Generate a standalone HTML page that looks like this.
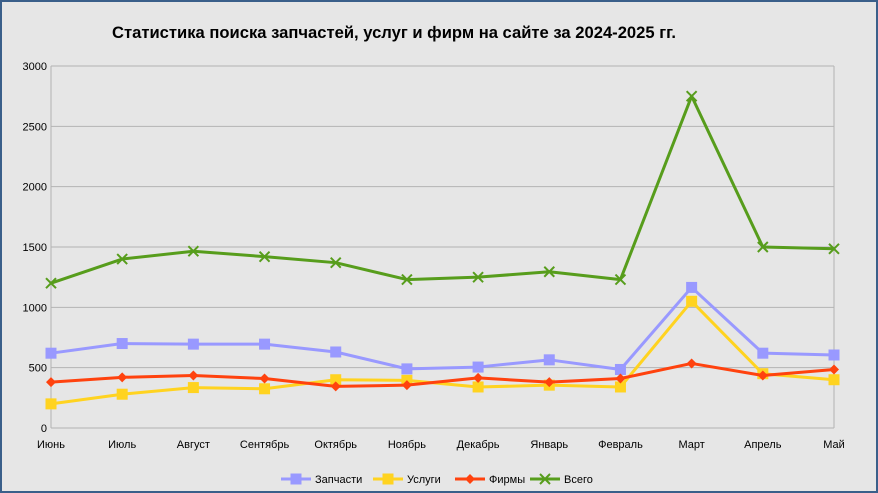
<!DOCTYPE html>
<html><head><meta charset="utf-8"><style>
html,body{margin:0;padding:0;background:#e6e6e6;}
svg{display:block;font-family:"Liberation Sans","DejaVu Sans",sans-serif;}
</style></head><body>
<svg id="chart" width="878" height="493">
<rect x="1" y="1" width="876" height="491" fill="#e6e6e6" stroke="#3a5f8a" stroke-width="2"/>
<text x="394" y="38" text-anchor="middle" font-size="16.6" font-weight="bold" fill="#000">Статистика поиска запчастей, услуг и фирм на сайте за 2024-2025 гг.</text>
<g id="grid"></g><g id="series"></g><g id="legend"></g>
</svg>
<script>
const categories=["Июнь","Июль","Август","Сентябрь","Октябрь","Ноябрь","Декабрь","Январь","Февраль","Март","Апрель","Май"];
const yTicks=[0,500,1000,1500,2000,2500,3000];
const partsValues=[620,700,695,695,630,490,505,565,485,1165,620,605];
const servicesValues=[200,280,335,325,400,395,340,355,340,1050,450,400];
const firmsValues=[380,420,435,410,345,355,415,380,410,535,435,485];
const totalValues=[1200,1400,1465,1420,1370,1230,1250,1295,1230,2750,1500,1485];
const seriesNames=["Запчасти","Услуги","Фирмы","Всего"];
const NS="http://www.w3.org/2000/svg";
const X0=51,X1=834,Y0=428,Y1=66,YMAX=3000;
function xs(i){return X0+(X1-X0)*i/(categories.length-1);}
function ys(v){return Y0-(Y0-Y1)*v/YMAX;}
function mk(t,a,p){const e=document.createElementNS(NS,t);for(const k in a)e.setAttribute(k,a[k]);p.appendChild(e);return e;}
const grid=document.getElementById('grid');
yTicks.forEach(v=>{
 const l=mk('line',{x1:X0,x2:X1,y1:ys(v),y2:ys(v),stroke:'#b3b3b3','stroke-width':1},grid);
 
 
 const t=mk('text',{x:X0-4,y:ys(v)+4,'text-anchor':'end','font-size':11,fill:'#000'},grid);
 t.textContent=v;
 
 
});
const ax=mk('line',{x1:X1,x2:X1,y1:Y1,y2:Y0,stroke:'#b3b3b3'},grid);


const ax2=mk('line',{x1:X0,x2:X0,y1:Y1,y2:Y0,stroke:'#b3b3b3'},grid);


categories.forEach((c,i)=>{
 const t=mk('text',{x:xs(i),y:Y0+20,'text-anchor':'middle','font-size':11,fill:'#000'},grid);
 t.textContent=c;
 
 
});
const colors=["#9999ff","#ffd320","#ff420e","#579d1c"];
const marks=["square","square","diamond","x"];
const allData=[partsValues,servicesValues,firmsValues,totalValues];
function marker(kind,x,y,col,p){
 let e;
 if(kind==="square")e=mk('rect',{x:x-5.5,y:y-5.5,width:11,height:11,fill:col},p);
 else if(kind==="diamond")e=mk('polygon',{points:`${x},${y-5} ${x+5},${y} ${x},${y+5} ${x-5},${y}`,fill:col},p);
 else e=mk('path',{d:`M${x-5},${y-5}L${x+5},${y+5}M${x-5},${y+5}L${x+5},${y-5}`,stroke:col,'stroke-width':2,fill:'none'},p);
 return e;
}
const sg=document.getElementById('series');
allData.forEach((d,s)=>{
 const g=mk('g',{},sg);
 
 
 const pl=mk('polyline',{points:d.map((v,i)=>xs(i)+','+ys(v)).join(' '),fill:'none',stroke:colors[s],'stroke-width':3,'stroke-linejoin':'round'},g);
 
 
 d.forEach((v,i)=>{
  const m=marker(marks[s],xs(i),ys(v),colors[s],g);
  
  
 });
});
const lg=document.getElementById('legend');
const lx=[281,373,455,530];
seriesNames.forEach((n,s)=>{
 const g=mk('g',{},lg);
 
 
 mk('line',{x1:lx[s],x2:lx[s]+30,y1:479,y2:479,stroke:colors[s],'stroke-width':3},g);
 marker(marks[s],lx[s]+15,479,colors[s],g);
 const t=mk('text',{x:lx[s]+34,y:483,'font-size':11,fill:'#000'},g);
 t.textContent=n;
});
</script>
</body></html>
